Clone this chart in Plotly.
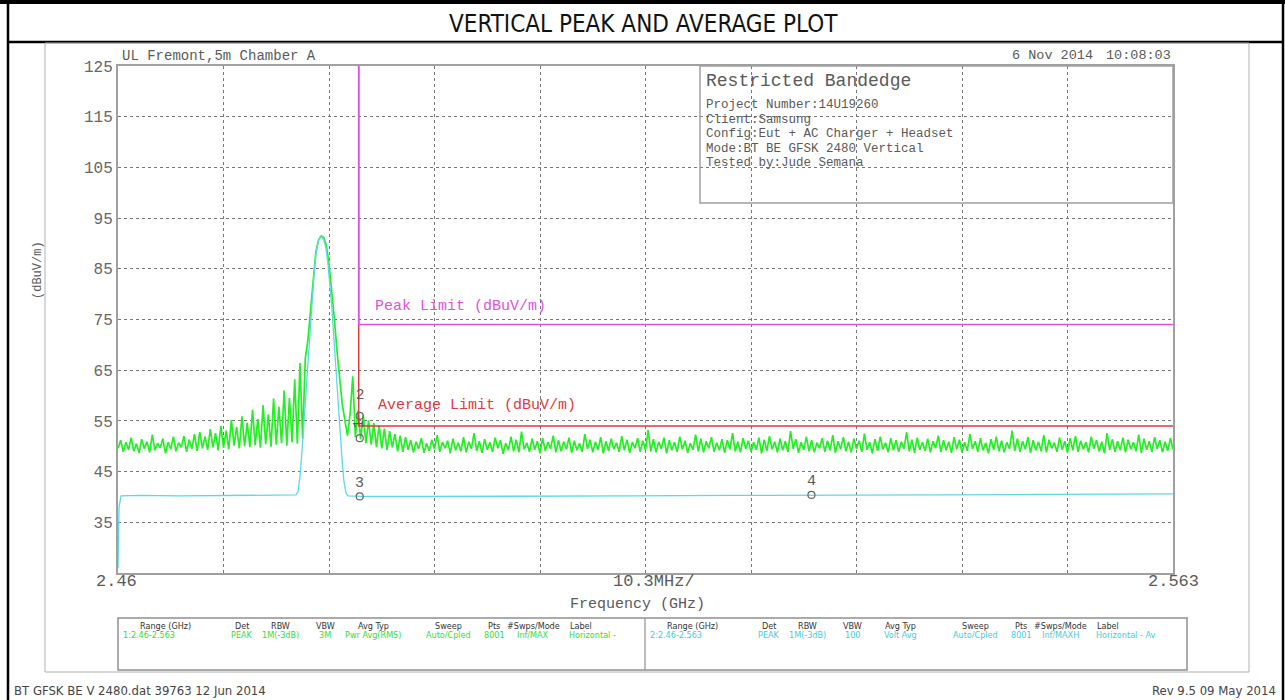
import numpy as np
import plotly.graph_objects as go

# ---------------- data ----------------
start_ghz = 2.46
stop_ghz = 2.563
top_db = 125
bottom_db = 25

# peak detector trace (green), evenly spaced sweep points from start to stop
peak_dbuv = [
    49.6, 51.2, 48.9, 50.8, 49.3, 51.7, 49.0, 50.5, 48.7, 51.4,
    49.5, 50.9, 48.8, 52.3, 49.2, 50.6, 49.7, 51.5, 48.6, 50.8,
    49.4, 51.9, 49.0, 50.7, 49.8, 52.0, 48.9, 51.3, 49.5, 52.4,
    49.1, 52.8, 49.6, 51.9, 49.3, 53.4, 49.8, 52.6, 49.2, 54.0,
    49.7, 53.1, 49.4, 55.2, 50.1, 53.8, 49.6, 55.9, 50.0, 54.6,
    49.8, 57.2, 50.2, 55.4, 49.7, 58.1, 50.4, 56.3, 49.9, 59.4,
    50.3, 57.8, 50.6, 61.0, 50.1, 59.5, 50.8, 63.2, 50.5, 66.4,
    51.5, 67.3, 71.0, 77.2, 83.4, 88.3, 90.6, 91.5, 91.2, 89.6,
    86.0, 81.2, 75.3, 69.0, 63.5, 58.4, 55.2, 52.1, 56.4, 63.8,
    51.8, 57.0, 51.4, 56.2, 50.6, 55.1, 50.3, 54.6, 49.8, 54.1,
    49.6, 53.5, 49.3, 53.0, 49.8, 52.4, 49.0, 52.1, 48.9, 51.8,
    49.3, 51.2, 48.8, 50.9, 49.5, 51.6, 48.7, 50.6, 49.1, 51.3,
    49.4, 52.2, 48.9, 50.8, 49.6, 51.1, 48.6, 51.5, 49.2, 50.7,
    49.0, 51.8, 48.8, 50.9, 49.5, 52.6, 49.1, 51.0, 48.7, 51.4,
    49.3, 50.8, 48.9, 51.7, 49.6, 51.2, 48.5, 50.6, 49.2, 51.9,
    49.0, 51.3, 48.8, 52.9, 49.4, 50.7, 48.9, 51.5, 49.3, 51.0,
    48.6, 51.6, 49.1, 50.8, 49.5, 52.1, 48.8, 51.2, 49.0, 50.9,
    49.4, 51.7, 48.7, 51.1, 49.2, 50.6, 48.9, 52.4, 49.5, 51.3,
    48.8, 50.9, 49.3, 51.8, 48.6, 51.0, 49.1, 51.5, 49.4, 50.7,
    48.9, 52.0, 49.2, 51.3, 48.7, 50.8, 49.6, 51.6, 48.9, 51.1,
    49.3, 53.2, 49.0, 51.4, 48.8, 50.9, 49.5, 51.7, 48.6, 51.2,
    49.2, 50.8, 48.9, 51.9, 49.4, 51.1, 48.7, 50.6, 49.3, 52.3,
    49.0, 51.5, 48.8, 51.0, 49.6, 51.8, 48.9, 50.7, 49.2, 51.4,
    48.7, 51.2, 49.4, 52.6, 49.0, 50.9, 48.8, 51.6, 49.5, 51.1,
    48.9, 50.8, 49.3, 51.7, 48.6, 51.3, 49.1, 52.0, 49.4, 50.9,
    48.8, 51.5, 49.2, 51.0, 48.9, 53.0, 49.5, 51.4, 48.7, 50.8,
    49.3, 51.9, 49.0, 51.2, 48.8, 50.7, 49.6, 51.6, 48.9, 51.1,
    49.2, 52.2, 48.7, 51.0, 49.4, 51.8, 49.0, 50.9, 48.8, 51.5,
    49.5, 51.1, 48.9, 52.5, 49.3, 50.8, 48.6, 51.4, 49.1, 51.9,
    49.4, 50.7, 48.8, 51.6, 49.2, 51.2, 48.9, 50.9, 49.5, 52.8,
    49.0, 51.3, 48.7, 51.7, 49.3, 50.8, 49.1, 51.5, 48.8, 51.0,
    49.6, 52.1, 48.9, 51.2, 49.2, 50.9, 48.7, 51.8, 49.4, 51.3,
    48.8, 50.8, 49.1, 52.4, 49.5, 51.0, 48.9, 51.6, 49.2, 50.7,
    48.6, 51.4, 49.3, 51.9, 49.0, 51.1, 48.8, 50.8, 49.5, 53.1,
    49.1, 51.5, 48.9, 51.0, 49.4, 51.8, 48.7, 51.2, 49.2, 50.9,
    49.0, 52.2, 48.8, 51.3, 49.6, 50.7, 48.9, 51.7, 49.3, 51.0,
    48.7, 51.6, 49.2, 52.0, 48.9, 51.1, 49.4, 50.8, 48.8, 51.9,
    49.5, 51.2, 49.0, 50.9, 48.6, 52.6, 49.3, 51.4, 48.9, 51.0,
    49.2, 51.7, 48.8, 51.3, 49.4, 50.8, 49.0, 52.3, 48.7, 51.5,
    49.3, 51.0, 48.9, 51.8, 49.5, 51.2, 48.8, 50.9, 49.1, 51.6,
    49.4,
]

# average detector trace (cyan)
avg_freq_ghz = [
    2.46000, 2.46010, 2.46030, 2.46200, 2.46600, 2.47000, 2.47400, 2.47738,
    2.47757, 2.47777, 2.47796, 2.47816, 2.47835, 2.47855, 2.47874, 2.47894,
    2.47914, 2.47933, 2.47953, 2.47972, 2.47992, 2.48011, 2.48031, 2.48050,
    2.48070, 2.48089, 2.48109, 2.48128, 2.48148, 2.48167, 2.48187, 2.48206,
    2.48226, 2.48245, 2.48400, 2.49000, 2.50000, 2.51000, 2.52000, 2.53000,
    2.54000, 2.55000, 2.56300,
]
avg_dbuv = [
    26.0, 38.0, 40.2, 40.3, 40.2, 40.3, 40.3, 40.4,
    41.0, 44.0, 49.0, 55.0, 61.0, 67.0, 73.0, 79.0,
    84.0, 88.0, 90.3, 91.2, 91.3, 90.6, 89.0, 86.0,
    82.0, 77.0, 71.0, 65.0, 59.0, 53.0, 47.5, 43.0,
    40.8, 40.2, 40.1, 40.1, 40.1, 40.2, 40.3, 40.3,
    40.4, 40.5, 40.6,
]

# restricted band limits
bandedge_ghz = 2.4835
peak_limit_dbuv = 74
avg_limit_dbuv = 54

# markers
marker_names = ["1", "2", "3", "4"]
marker_freq_ghz = [2.4836, 2.4836, 2.4836, 2.5277]
marker_dbuv = [51.6, 56.0, 40.1, 40.4]

y_tick_vals = [35, 45, 55, 65, 75, 85, 95, 105, 115, 125]
n_div = 10

# ---------------- figure ----------------
W, H = 1285, 700
L, R, T, B = 118, 1173, 66, 573   # plot area in pixels


def px(xp):
    return (xp - L) / (R - L)


def py(yp):
    return (B - yp) / (B - T)


peak_freq = np.linspace(start_ghz, stop_ghz, len(peak_dbuv))
x_grid = np.linspace(start_ghz, stop_ghz, n_div + 1)

GREEN = "#22f022"
CYAN = "#5cd8e8"
RED = "#e03a3a"
MAGENTA = "#e050e0"
HP = "Liberation Mono, DejaVu Sans Mono, monospace"
NARROW = "Liberation Sans Narrow, DejaVu Sans Condensed, Arial Narrow, sans-serif"
GREY_TXT = "#5a5a5a"

fig = go.Figure()
fig.add_trace(go.Scatter(x=peak_freq, y=peak_dbuv, mode="lines",
                         line=dict(color=GREEN, width=1.7), hoverinfo="skip"))
fig.add_trace(go.Scatter(x=avg_freq_ghz, y=avg_dbuv, mode="lines",
                         line=dict(color=CYAN, width=1.3), hoverinfo="skip"))
fig.add_trace(go.Scatter(x=[bandedge_ghz, bandedge_ghz, stop_ghz],
                         y=[top_db, avg_limit_dbuv, avg_limit_dbuv], mode="lines",
                         line=dict(color=RED, width=1.5), hoverinfo="skip"))
fig.add_trace(go.Scatter(x=[bandedge_ghz, bandedge_ghz, stop_ghz],
                         y=[top_db, peak_limit_dbuv, peak_limit_dbuv], mode="lines",
                         line=dict(color=MAGENTA, width=1.5), hoverinfo="skip"))
fig.add_trace(go.Scatter(x=marker_freq_ghz, y=marker_dbuv, mode="markers",
                         marker=dict(symbol="circle-open", size=7,
                                     color="#666", line=dict(width=1.2)),
                         hoverinfo="skip"))

annotations = []


def txt(text, x, y, size, color=GREY_TXT, family=HP, xanchor="left",
        yanchor="middle", angle=0, xref="paper", yref="paper"):
    annotations.append(dict(text=text, x=x, y=y, xref=xref, yref=yref,
                            xanchor=xanchor, yanchor=yanchor, showarrow=False,
                            textangle=angle,
                            font=dict(family=family, size=size, color=color)))


# title row
txt("VERTICAL PEAK AND AVERAGE PLOT", px(643), py(24), 24, color="#111",
    family=NARROW, xanchor="center")
# header texts
txt("UL Fremont,5m Chamber A", px(120), py(56), 14)
txt("6 Nov 2014", px(1010), py(56), 13.5)
txt("10:08:03", px(1173), py(56), 13.5, xanchor="right")
# axis texts
txt("(dBuV/m)", px(38), py(270), 12, angle=-90, xanchor="center")
txt("2.46", px(116), py(581), 17, xanchor="center")
txt("10.3MHz/", px(654), py(581), 17, xanchor="center")
txt("2.563", px(1173), py(581), 17, xanchor="center")
txt("Frequency (GHz)", px(637), py(604), 15, xanchor="center")
# limit labels
txt("Peak Limit (dBuV/m)", 2.4849, 77.6, 15, color=MAGENTA, xref="x", yref="y")
txt("Average Limit (dBuV/m)", 2.4852, 58.1, 15, color=RED, xref="x", yref="y")
# marker labels
txt("2", marker_freq_ghz[1], 60.2, 14, xanchor="center", xref="x", yref="y")
txt("1", marker_freq_ghz[0], 54.3, 14, xanchor="center", angle=-90, xref="x", yref="y")
txt("3", marker_freq_ghz[2], 42.6, 15, xanchor="center", xref="x", yref="y")
txt("4", marker_freq_ghz[3], 43.0, 15, xanchor="center", xref="x", yref="y")

# info box
txt("Restricted Bandedge", px(704), py(81), 18)
info_lines = ["Project Number:14U19260", "Client:Samsung",
              "Config:Eut + AC Charger + Headset",
              "Mode:BT BE GFSK 2480 Vertical", "Tested by:Jude Semana"]
for k, line in enumerate(info_lines):
    txt(line, px(704), py(105 + 14.6 * k), 12.5)

# settings table
hdr_cols = [("Range (GHz)", 47), ("Det", 124), ("RBW", 162), ("VBW", 207),
            ("Avg Typ", 255), ("Sweep", 330), ("Pts", 376),
            ("#Swps/Mode", 415), ("Label", 463)]
val_green = ["1:2.46-2.563", "PEAK", "1M(-3dB)", "3M", "Pwr Avg(RMS)",
             "Auto/Cpled", "8001", "Inf/MAX", "Horizontal -"]
val_cyan = ["2:2.46-2.563", "PEAK", "1M(-3dB)", "100", "Volt Avg",
            "Auto/Cpled", "8001", "Inf/MAXH", "Horizontal - Av"]
for x0, vals, col in [(118, val_green, "#33dd33"), (645, val_cyan, "#44ccdd")]:
    for j, (h, c) in enumerate(hdr_cols):
        txt(h, px(x0 + c), py(626), 9, color="#333", family=NARROW,
            xanchor="center")
        if j == 0:
            txt(vals[j], px(x0 + 3), py(635), 9, color=col, family=NARROW)
        elif j == len(hdr_cols) - 1:
            txt(vals[j], px(x0 + 449), py(635), 9, color=col, family=NARROW)
        else:
            txt(vals[j], px(x0 + c), py(635), 9, color=col, family=NARROW,
                xanchor="center")

# footer
txt("BT GFSK BE V 2480.dat 39763 12 Jun 2014", px(12), py(690), 13,
    family=NARROW, color="#444")
txt("Rev 9.5 09 May 2014", px(1278), py(690), 13, xanchor="right",
    family=NARROW, color="#444")

shapes = []


def line(x0, y0, x1, y1, color, width):
    shapes.append(dict(type="line", xref="paper", yref="paper",
                       x0=px(x0), y0=py(y0), x1=px(x1), y1=py(y1),
                       line=dict(color=color, width=width)))


def rect(x0, y0, x1, y1, color, width):
    shapes.append(dict(type="rect", xref="paper", yref="paper",
                       x0=px(x0), y0=py(y0), x1=px(x1), y1=py(y1),
                       line=dict(color=color, width=width),
                       fillcolor="rgba(0,0,0,0)"))


# document frame
line(0, 2, 1285, 2, "#000", 4)
line(8, 42, 1283, 42, "#000", 2.5)
line(8, 0, 8, 700, "#000", 2.5)
line(1283, 0, 1283, 700, "#000", 2.5)
# light plot frame
rect(45, 43, 1249, 672, "#b0b0b0", 1)
# info box
rect(700, 66, 1173, 203, "#a0a0a0", 1.5)
# settings table
rect(118, 618, 1187, 670, "#909090", 1.5)
line(645, 618, 645, 670, "#909090", 1.2)

fig.update_layout(
    width=W, height=H,
    margin=dict(l=L, r=W - R, t=T, b=H - B, pad=0),
    paper_bgcolor="white", plot_bgcolor="white",
    showlegend=False,
    annotations=annotations,
    shapes=shapes,
    xaxis=dict(range=[start_ghz, stop_ghz], tickvals=list(x_grid),
               showticklabels=False, ticks="", showgrid=True,
               gridcolor="#777", griddash="dot", gridwidth=1,
               showline=True, mirror=True, linecolor="#a0a0a0", linewidth=2,
               zeroline=False),
    yaxis=dict(range=[bottom_db, top_db], tickvals=y_tick_vals,
               ticktext=[str(v) for v in y_tick_vals],
               tickfont=dict(family=HP, size=16, color="#666"),
               ticks="", showgrid=True, gridcolor="#777", griddash="dot",
               gridwidth=1, showline=True, mirror=True, linecolor="#a0a0a0",
               linewidth=2, zeroline=False),
)

fig.write_html("out.html",
               config={"displayModeBar": False},
               post_script="document.body.style.margin='0px';"
                           "document.body.style.overflow='hidden';")
